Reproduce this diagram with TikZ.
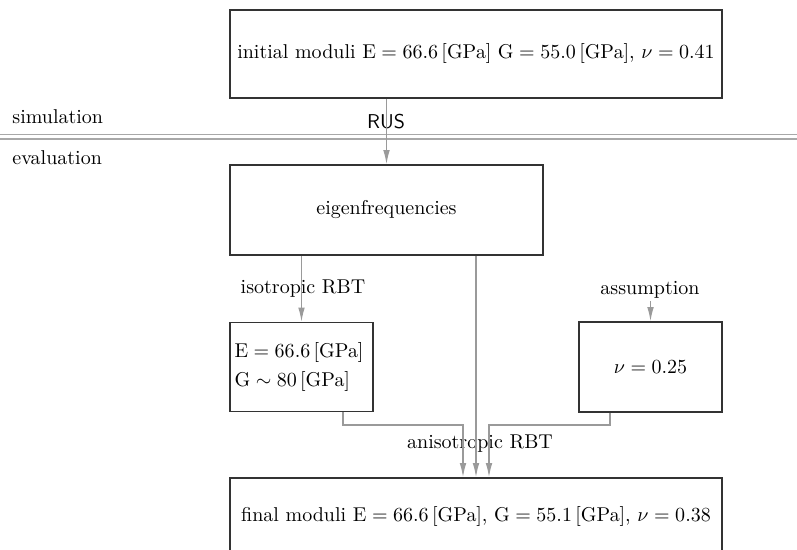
\documentclass[tikz,border=0pt]{standalone}
\usetikzlibrary{arrows.meta}
\definecolor{boxline}{HTML}{333333}
\definecolor{flow}{HTML}{9A9A9A}
\definecolor{sep}{HTML}{A8A8A8}
\begin{document}
\begin{tikzpicture}[x=0.5pt,y=-0.5pt,
  stage/.style={draw=boxline,line width=0.85pt,inner sep=2pt,font=\normalsize},
  arr/.style={draw=flow,line width=0.6pt,-{Latex[length=7pt,width=3.3pt]}},
  tag/.style={inner sep=1pt,font=\normalsize}]
\useasboundingbox (0,0) rectangle (797,550);
\clip (0,0) rectangle (797,550);

% phase separator
\draw[sep,line width=0.55pt] (0,134.5) -- (797,134.5);
\draw[sep,line width=0.55pt] (0,139) -- (797,139);
\node[tag,anchor=west] (simlab) at (10,117) {simulation};
\node[tag,anchor=west] (evallab) at (10,158) {evaluation};

% boxes
\node[stage,minimum width=246pt,minimum height=44pt] (init) at (476,54)
  {initial moduli $\mathrm{E}=66.6\,[\mathrm{GPa}]$ $\mathrm{G}=55.0\,[\mathrm{GPa}]$, $\nu=0.41$};
\node[stage,minimum width=156.5pt,minimum height=45pt] (eig) at (386.5,210) {eigenfrequencies};
\node[stage,minimum width=71.5pt,minimum height=44.5pt,text width=67pt,align=left] (iso) at (301.5,367)
  {$\mathrm{E}=66.6\,[\mathrm{GPa}]$\\[2.5pt] $\mathrm{G}\sim 80\,[\mathrm{GPa}]$};
\node[stage,minimum width=71.5pt,minimum height=45pt] (nu) at (650.5,367) {$\nu=0.25$};
\node[stage,minimum width=246pt,minimum height=38pt] (fin) at (476,516)
  {final moduli $\mathrm{E}=66.6\,[\mathrm{GPa}]$, $\mathrm{G}=55.1\,[\mathrm{GPa}]$, $\nu=0.38$};

% labels on the connectors
\node[tag] (rus) at (386,122) {\sffamily RUS};
\node[tag] (isolab) at (303,289) {isotropic RBT};
\node[tag] (asslab) at (650,290) {assumption};
\node[tag] (anilab) at (480,444) {anisotropic RBT};

% routing points
\coordinate (l1) at (343,425);
\coordinate (l2) at (463,425);
\coordinate (r1) at (610,425);
\coordinate (r2) at (489,425);

% connectors
\draw[arr] (init.south -| eig.north) -- (eig.north);
\draw[arr] (eig.south -| iso.north) -- (iso.north);
\draw[arr] (eig.south -| fin.north) -- (fin.north);
\draw[arr] (asslab.south -| nu.north) -- (nu.north);
\draw[arr] (iso.south -| l1) -- (l1) -- (l2) -- (l2 |- fin.north);
\draw[arr] (nu.south -| r1) -- (r1) -- (r2) -- (r2 |- fin.north);
\end{tikzpicture}
\end{document}
